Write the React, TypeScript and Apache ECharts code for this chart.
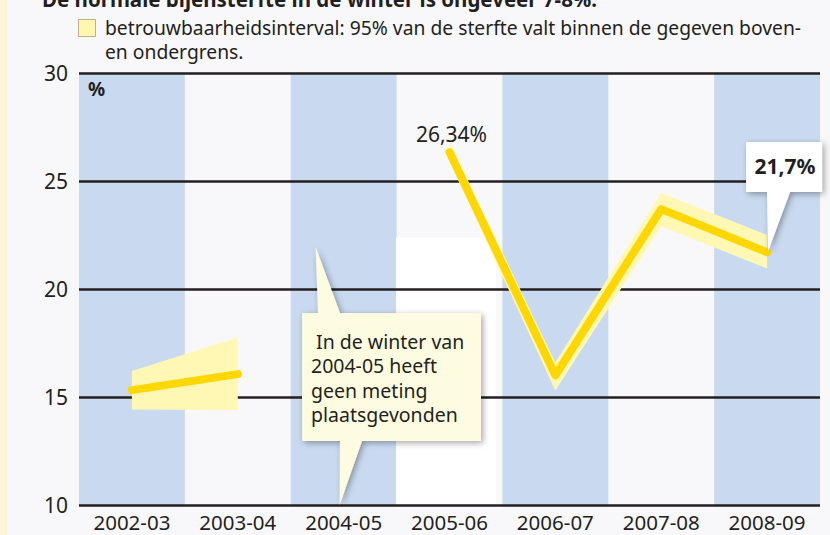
import React, { useEffect, useRef } from "react";
import * as echarts from "echarts";

const categories = ["2002-03", "2003-04", "2004-05", "2005-06", "2006-07", "2007-08", "2008-09"];
const mortality: (number | string)[] = [15.32, 16.06, "-", 26.34, 16.0, 23.7, 21.7];
const lowerBound: (number | string)[] = [14.42, 14.4, "-", 25.9, 15.3, 22.9, 20.95];
const upperBound: (number | string)[] = [16.2, 17.75, "-", 26.8, 16.6, 24.45, 22.5];
const bandWidth = upperBound.map((u, i) =>
  typeof u === "number" && typeof lowerBound[i] === "number" ? +(u - (lowerBound[i] as number)).toFixed(2) : "-"
);

const titleText = "De normale bijensterfte in de winter is ongeveer 7-8%.";
const legendLine1 = "betrouwbaarheidsinterval: 95% van de sterfte valt binnen de gegeven boven-";
const legendLine2 = "en ondergrens.";
const noteLines = [" In de winter van", "2004-05 heeft", "geen meting", "plaatsgevonden"];
const peakLabel = "26,34%";
const lastLabel = "21,7%";

const FONT = "'Noto Sans', sans-serif";
const INK = "#231f20";

export default function App() {
  const ref = useRef<HTMLDivElement>(null);
  useEffect(() => {
    document.body.style.margin = "0";
    const chart = echarts.init(ref.current!, null, { renderer: "svg" });
    chart.setOption({
      animation: false,
      backgroundColor: "#f8f8fa",
      grid: { left: 79, right: 10, top: 73, bottom: 30 },
      xAxis: {
        type: "category",
        data: categories,
        boundaryGap: true,
        z: 0,
        axisLine: { show: false },
        axisTick: { show: false },
        splitLine: { show: false },
        splitArea: { show: true, areaStyle: { color: ["#c9daf0", "rgba(0,0,0,0)"] } },
        axisLabel: { color: INK, fontSize: 20.5, fontFamily: FONT, margin: 6, interval: 0 },
      },
      yAxis: {
        type: "value",
        min: 10,
        max: 30,
        interval: 5,
        z: 2,
        axisLine: { show: false },
        axisTick: { show: false },
        splitLine: { lineStyle: { color: INK, width: 2.5 } },
        axisLabel: { color: INK, fontSize: 21, fontFamily: FONT, margin: 11 },
      },
      series: [
        {
          type: "line",
          data: lowerBound,
          stack: "band",
          symbol: "none",
          silent: true,
          lineStyle: { opacity: 0 },
          z: 3,
        },
        {
          type: "line",
          data: bandWidth,
          stack: "band",
          symbol: "none",
          silent: true,
          lineStyle: { opacity: 0 },
          areaStyle: { color: "#fff8b4", opacity: 1 },
          z: 3,
        },
        {
          type: "line",
          data: mortality,
          symbol: "none",
          silent: true,
          lineStyle: { color: "#fed700", width: 8, cap: "round", join: "round" },
          z: 4,
        },
      ],
    });

    const peak = chart.convertToPixel({ xAxisIndex: 0, yAxisIndex: 0 }, [3, mortality[3] as number]);
    const last = chart.convertToPixel({ xAxisIndex: 0, yAxisIndex: 0 }, [6, mortality[6] as number]);
    const gapTop = chart.convertToPixel({ xAxisIndex: 0, yAxisIndex: 0 }, [2, 21.95]);
    const gapBottom = chart.convertToPixel({ xAxisIndex: 0, yAxisIndex: 0 }, [2, 10]);

    const bx0 = 302, bx1 = 481, by0 = 313, by1 = 441;
    const lx0 = last[0] - 21, lx1 = last[0] + 55, ly0 = 142, ly1 = 192;

    chart.setOption({
      graphic: [
        { type: "rect", z: 0, shape: { x: 0, y: 0, width: 7, height: 535 }, style: { fill: "#fdf5d9" } },
        { type: "rect", z: 1, shape: { x: 396, y: 238, width: 100, height: 267 }, style: { fill: "#ffffff" } },
        {
          type: "text",
          z: 10,
          x: 42,
          y: -1,
          style: { text: titleText, fill: INK, font: `bold 20.5px ${FONT}`, verticalAlign: "middle" },
        },
        {
          type: "rect",
          z: 10,
          shape: { x: 78.5, y: 19.5, width: 17, height: 17 },
          style: { fill: "#fff7b0", stroke: "#b8b18a", lineWidth: 1 },
        },
        {
          type: "text",
          z: 10,
          x: 105,
          y: 27.5,
          style: { text: legendLine1, fill: INK, font: `19.3px ${FONT}`, lineHeight: 20, verticalAlign: "middle" },
        },
        {
          type: "text",
          z: 10,
          x: 105,
          y: 51,
          style: { text: legendLine2, fill: INK, font: `19.3px ${FONT}`, lineHeight: 20, verticalAlign: "middle" },
        },
        {
          type: "text",
          z: 10,
          x: 88,
          y: 89,
          style: { text: "%", fill: INK, font: `bold 19px ${FONT}`, verticalAlign: "middle" },
        },
        {
          type: "text",
          z: 10,
          x: peak[0] + 2,
          y: peak[1] - 18,
          style: { text: peakLabel, fill: INK, font: `21px ${FONT}`, align: "center", verticalAlign: "middle" },
        },
        {
          type: "polygon",
          z: 20,
          shape: {
            points: [
              [bx0, by0],
              [318, by0],
              [gapTop[0] - 28, gapTop[1]],
              [340, by0],
              [bx1, by0],
              [bx1, by1],
              [362, by1],
              [gapBottom[0] - 4, gapBottom[1]],
              [340, by1],
              [bx0, by1],
            ],
          },
          style: {
            fill: "#fefce0",
            shadowBlur: 6,
            shadowOffsetX: 2,
            shadowOffsetY: 2,
            shadowColor: "rgba(0,0,0,0.35)",
          },
        },
        ...noteLines.map((t, i) => ({
          type: "text",
          z: 21,
          x: 311,
          y: 341 + i * 24.5,
          style: { text: t, fill: INK, font: `19.5px ${FONT}`, verticalAlign: "middle" },
        })),
        {
          type: "polygon",
          z: 20,
          shape: {
            points: [
              [lx0, ly0],
              [lx1, ly0],
              [lx1, ly1],
              [last[0] + 23, ly1],
              [last[0] + 1, last[1] - 1],
              [last[0], ly1],
              [lx0, ly1],
            ],
          },
          style: {
            fill: "#ffffff",
            shadowBlur: 6,
            shadowOffsetX: 2,
            shadowOffsetY: 2,
            shadowColor: "rgba(0,0,0,0.35)",
          },
        },
        {
          type: "text",
          z: 21,
          x: (lx0 + lx1) / 2 + 1,
          y: 166,
          style: { text: lastLabel, fill: INK, font: `bold 21px ${FONT}`, align: "center", verticalAlign: "middle" },
        },
      ],
    });
    return () => chart.dispose();
  }, []);
  return <div ref={ref} style={{ width: 830, height: 535 }} />;
}
